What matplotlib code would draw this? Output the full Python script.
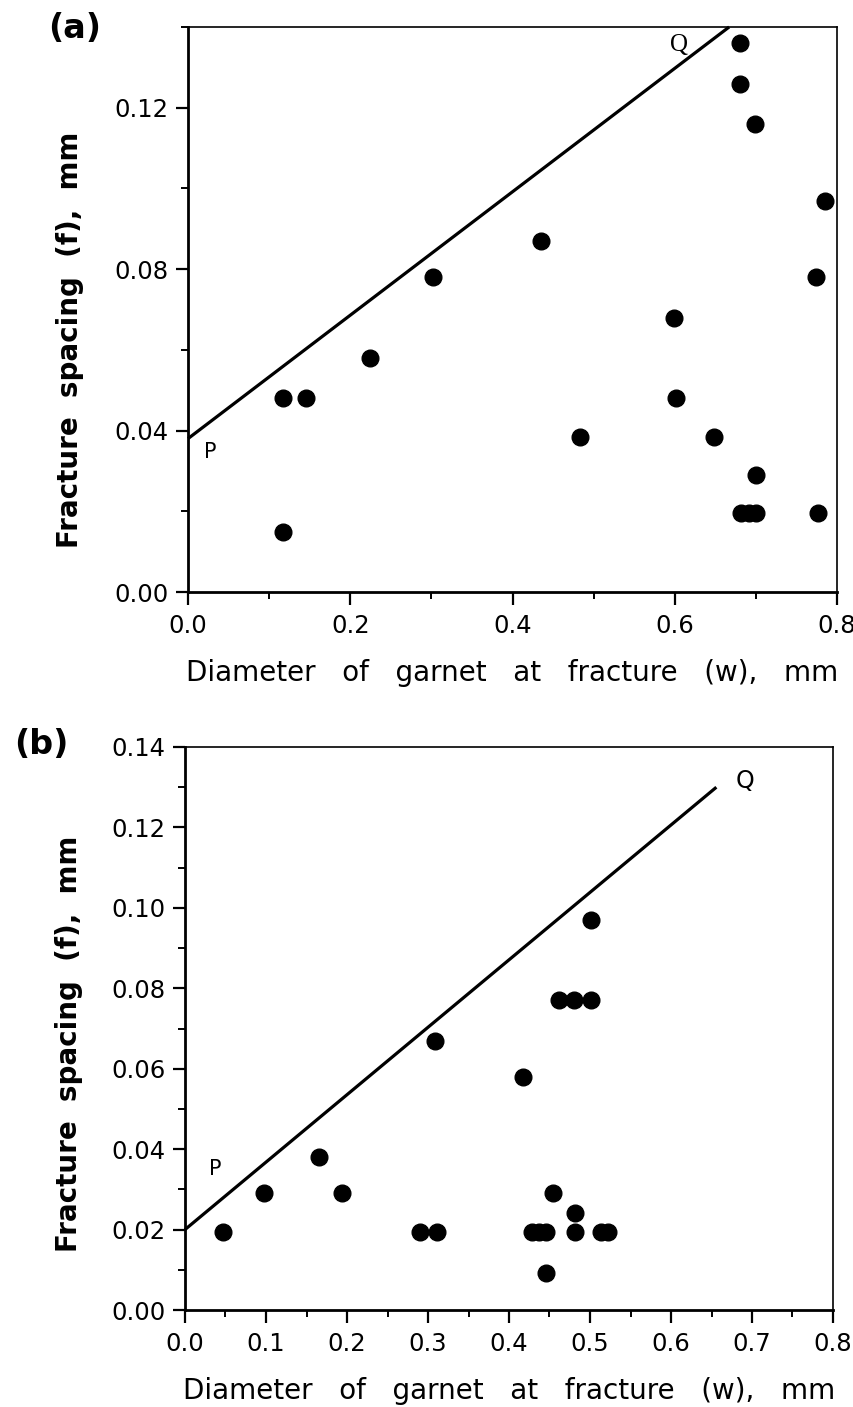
import matplotlib
matplotlib.use("Agg")
import matplotlib.pyplot as plt
from matplotlib.ticker import MultipleLocator, FormatStrFormatter

# ---- panel (a) data: garnet diameter w (mm) vs fracture spacing f (mm)
w_a = [0.117, 0.146, 0.224, 0.302, 0.435, 0.483, 0.601, 0.599, 0.648,
       0.68, 0.68, 0.699, 0.700, 0.682, 0.691, 0.700, 0.776, 0.774, 0.785, 0.117]
f_a = [0.048, 0.048, 0.058, 0.078, 0.087, 0.0385, 0.048, 0.068, 0.0385,
       0.136, 0.126, 0.116, 0.029, 0.0195, 0.0195, 0.0195, 0.0195, 0.078, 0.097, 0.0148]
# limiting line P-Q for panel (a)
line_a_w = [0.0, 0.667]
line_a_f = [0.038, 0.14]

# ---- panel (b) data
w_b = [0.047, 0.098, 0.166, 0.194, 0.290, 0.311, 0.309, 0.417, 0.428, 0.437,
       0.446, 0.446, 0.454, 0.482, 0.482, 0.462, 0.480, 0.501, 0.501, 0.513, 0.522]
f_b = [0.0195, 0.029, 0.038, 0.029, 0.0195, 0.0195, 0.067, 0.058, 0.0195, 0.0195,
       0.0195, 0.0092, 0.029, 0.024, 0.0195, 0.077, 0.077, 0.077, 0.097, 0.0195, 0.0195]
line_b_w = [0.0, 0.656]
line_b_f = [0.02, 0.130]

xlabel_txt = "Diameter   of   garnet   at   fracture   (w),   mm"
ylabel_txt = "Fracture  spacing  (f),  mm"

fig = plt.figure(figsize=(8.54, 14.07), dpi=100)


def style_axes(ax, xmaj, xmin, ymaj, ymin):
    ax.set_xlim(0, 0.8)
    ax.set_ylim(0, 0.14)
    ax.xaxis.set_major_locator(MultipleLocator(xmaj))
    ax.xaxis.set_minor_locator(MultipleLocator(xmin))
    ax.yaxis.set_major_locator(MultipleLocator(ymaj))
    ax.yaxis.set_minor_locator(MultipleLocator(ymin))
    ax.yaxis.set_major_formatter(FormatStrFormatter("%.2f"))
    ax.xaxis.set_major_formatter(FormatStrFormatter("%.1f"))
    ax.tick_params(which="major", direction="out", length=9, width=1.6)
    ax.tick_params(which="minor", direction="out", length=5, width=1.4)
    ax.tick_params(axis="y", labelsize=17.5, pad=5)
    ax.tick_params(axis="x", labelsize=17.5, pad=7)
    for side in ("left", "bottom"):
        ax.spines[side].set_linewidth(2.0)
    for side in ("top", "right"):
        ax.spines[side].set_linewidth(1.2)


def label_axes(ax, xl_y, yl_x, yl_y):
    ax.set_xlabel(xlabel_txt, fontsize=20)
    ax.xaxis.label.set_va("center")
    ax.xaxis.set_label_coords(0.5, xl_y)
    ax.set_ylabel(ylabel_txt, fontsize=20, fontweight="bold")
    ax.yaxis.label.set_va("center")
    ax.yaxis.set_label_coords(yl_x, yl_y)


# ---------------- panel (a)
ax1 = fig.add_axes([188 / 854, 1 - 592 / 1407, 649 / 854, 565 / 1407])
style_axes(ax1, 0.2, 0.1, 0.04, 0.02)
ax1.plot(line_a_w, line_a_f, color="black", lw=2.3, solid_capstyle="butt", clip_on=False)
ax1.plot(w_a, f_a, "o", color="black", ms=12, clip_on=False)
ax1.text(0.028, 0.0346, "P", fontsize=15, ha="center", va="center")
ax1.text(0.605, 0.1355, "Q", fontsize=18, ha="center", va="center",
         family="Liberation Serif")
label_axes(ax1, -0.143, -0.182, 0.446)
fig.text(75 / 854, 1 - 29 / 1407, "(a)", fontsize=24, fontweight="bold",
         ha="center", va="center")

# ---------------- panel (b)
ax2 = fig.add_axes([185 / 854, 1 - 1310 / 1407, 648 / 854, 563 / 1407])
style_axes(ax2, 0.1, 0.05, 0.02, 0.01)
ax2.plot(line_b_w, line_b_f, color="black", lw=2.3, solid_capstyle="butt", clip_on=False)
ax2.plot(w_b, f_b, "o", color="black", ms=12, clip_on=False)
ax2.text(0.037, 0.0351, "P", fontsize=15, ha="center", va="center")
ax2.text(0.691, 0.1316, "Q", fontsize=17, ha="center", va="center")
label_axes(ax2, -0.144, -0.179, 0.4725)
fig.text(41 / 854, 1 - 745 / 1407, "(b)", fontsize=24, fontweight="bold",
         ha="center", va="center")

fig.savefig("out.png", dpi=100)
